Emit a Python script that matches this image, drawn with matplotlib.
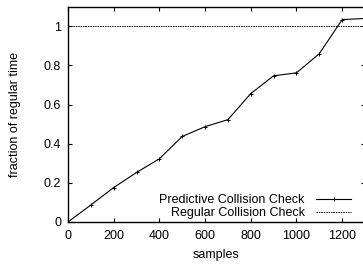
import matplotlib
matplotlib.use("Agg")
import matplotlib.pyplot as plt

samples = [0, 100, 200, 300, 400, 500, 600, 700, 800, 900, 1000, 1100, 1200, 1300]
predictive = [0.0, 0.087, 0.176, 0.253, 0.323, 0.437, 0.487, 0.523, 0.656, 0.747, 0.762, 0.86, 1.034, 1.04]
regular_x = [0, 1300]
regular = [1.0, 1.0]
xticks = [0, 200, 400, 600, 800, 1000, 1200]
yticks = [0, 0.2, 0.4, 0.6, 0.8, 1.0]
yticklabels = ["0", "0.2", "0.4", "0.6", "0.8", "1"]

plt.rcParams['font.family'] = ['Liberation Sans', 'DejaVu Sans']
plt.rcParams['font.size'] = 9

fig = plt.figure(figsize=(3.63, 2.65), dpi=100)
ax = fig.add_axes([68/363, 1-222/265, 297/363, (222-6.7)/265])

ax.plot(samples, predictive, color='black', lw=0.8, marker='+', ms=3, mew=0.7,
        label='Predictive Collision Check')
ax.plot(regular_x, regular, color='black', lw=0.7, linestyle=(0, (1.5, 1)),
        label='Regular Collision Check')

ax.set_xlim(0, 1300)
ax.set_ylim(0, 1.1)
ax.set_xticks(xticks)
ax.set_yticks(yticks)
ax.set_yticklabels(yticklabels)
ax.tick_params(direction='in', top=True, right=True, length=3, width=0.8)
ax.tick_params(axis='x', pad=6)
ax.tick_params(axis='y', pad=5)
for s in ax.spines.values():
    s.set_linewidth(1.0)
ax.set_xlabel('samples', labelpad=5)
ax.set_ylabel('fraction of regular time', labelpad=16)

leg = ax.legend(loc='lower right', frameon=False, markerfirst=False, handlelength=2.8,
                handletextpad=0.9, labelspacing=0.1, borderaxespad=0.0,
                bbox_to_anchor=(0.97, -0.01))

fig.savefig('out.png', dpi=100)
